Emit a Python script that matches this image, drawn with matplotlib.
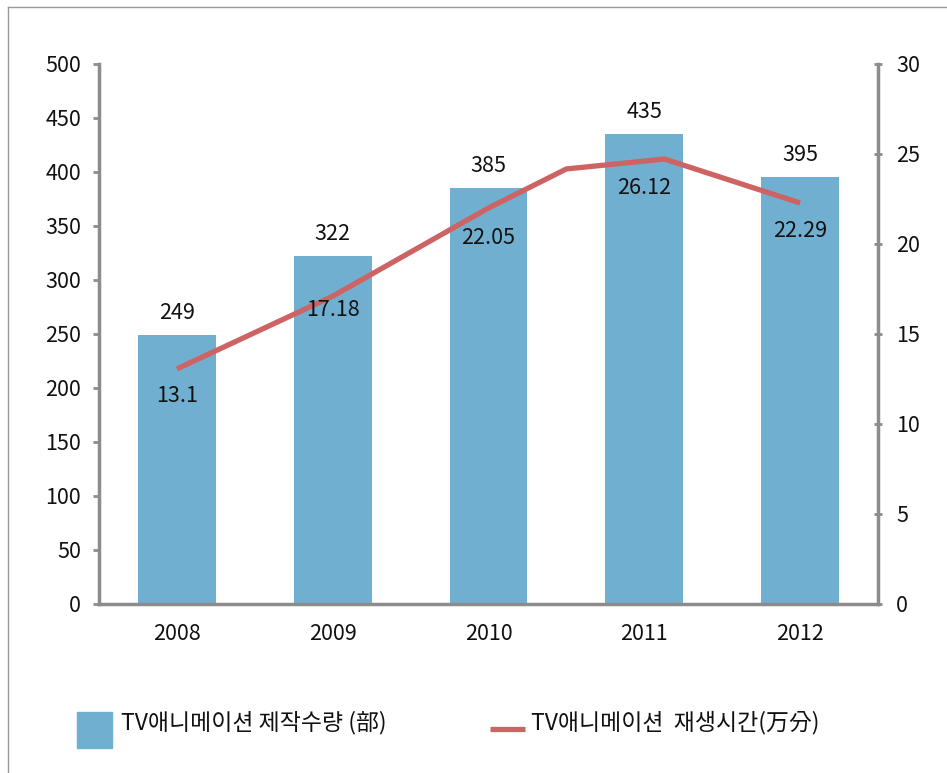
import matplotlib.pyplot as plt
from matplotlib.lines import Line2D
from matplotlib.patches import Rectangle

plt.rcParams['font.family'] = ['Noto Sans CJK KR', 'DejaVu Sans']

# ---------------------------------------------------------------------
# Data
# ---------------------------------------------------------------------

years = ["2008", "2009", "2010", "2011", "2012"]
production = [249, 322, 385, 435, 395]
runtime_labels = ["13.1", "17.18", "22.05", "26.12", "22.29"]

# line as drawn in the source (it has a kink between 2010 and 2011)
line_x = [0, 1, 2, 2.5, 3.13, 4]
line_y = [13.06, 17.1, 22.0, 24.17, 24.72, 22.28]

bar_name = "TV애니메이션 제작수량 (部)"
line_name = "TV애니메이션  재생시간(万分)"

# ---------------------------------------------------------------------
# Style
# ---------------------------------------------------------------------

BAR_COLOR = "#71afd0"
LINE_COLOR = "#cd6363"
AXIS_COLOR = "#8c8c8c"
TEXT_COLOR = "#111111"
FS = 15.5
W, H = 947, 773

fig = plt.figure(figsize=(W / 100, H / 100), dpi=100)
ax = fig.add_axes([99 / W, 1 - 604 / H, (878 - 99) / W, (604 - 64) / H])
ax2 = ax.twinx()

x = list(range(len(years)))
ax.bar(x, production, width=0.5, color=BAR_COLOR, zorder=2)
ax.set_xlim(-0.5, 4.5)
ax.set_ylim(0, 500)
ax.set_yticks(range(0, 501, 50))
ax.set_xticks(x)
ax.set_xticklabels(years)

for xi, v in zip(x, production):
    ax.annotate(str(v), (xi, v), xytext=(0, 22), textcoords="offset pixels",
                ha="center", va="center", fontsize=FS, color=TEXT_COLOR)

ax2.plot(line_x, line_y, color=LINE_COLOR, lw=3.8, solid_capstyle="butt", zorder=3)
ax2.set_ylim(0, 30)
ax2.set_yticks(range(0, 31, 5))

# data label offsets below the line (pixels), as seen in the source
label_base = [13.06, 17.1, 22.0, 26.12, 22.28]
label_off = [27, 14, 30, 54, 28]
for xi, base, off, lab in zip(x, label_base, label_off, runtime_labels):
    ax2.annotate(lab, (xi, base), xytext=(0, -off), textcoords="offset pixels",
                 ha="center", va="center", fontsize=FS, color=TEXT_COLOR, zorder=4)

ax.set_zorder(1)
ax2.set_zorder(2)
ax.patch.set_visible(False)
ax2.patch.set_visible(False)

for a in (ax, ax2):
    for s in a.spines.values():
        s.set_visible(False)

ax.spines["left"].set_visible(True)
ax.spines["bottom"].set_visible(True)
ax2.spines["right"].set_visible(True)
for s in (ax.spines["left"], ax.spines["bottom"], ax2.spines["right"]):
    s.set_color(AXIS_COLOR)
    s.set_linewidth(2.5)
    s.set_zorder(5)

ax.tick_params(axis="y", direction="out", length=4, width=2, color=AXIS_COLOR,
               labelsize=FS, pad=9, labelcolor=TEXT_COLOR)
ax.tick_params(axis="x", length=0, labelsize=FS, pad=14, labelcolor=TEXT_COLOR)
ax2.tick_params(axis="y", direction="inout", length=6, width=2, color=AXIS_COLOR,
                labelsize=FS, pad=10, labelcolor=TEXT_COLOR)

# legend drawn by hand
fig.patches.append(Rectangle((77 / W, 1 - 748 / H), 35 / W, 36 / H,
                             transform=fig.transFigure, color=BAR_COLOR))
fig.text(121 / W, 1 - 723 / H, bar_name, fontsize=16.5, va="center", ha="left",
         color=TEXT_COLOR)
fig.lines.append(Line2D([490 / W, 525 / W], [1 - 729 / H, 1 - 729 / H],
                        transform=fig.transFigure, color=LINE_COLOR, lw=3.8,
                        solid_capstyle="butt"))
fig.text(531 / W, 1 - 723 / H, line_name, fontsize=16.5, va="center", ha="left",
         color=TEXT_COLOR)

# outer frame (only top and left edges visible)
fig.lines.append(Line2D([8 / W, 1], [1 - 7 / H, 1 - 7 / H],
                        transform=fig.transFigure, color="#999999", lw=1))
fig.lines.append(Line2D([8 / W, 8 / W], [0, 1 - 7 / H],
                        transform=fig.transFigure, color="#999999", lw=1))

fig.savefig("out.png", dpi=100, facecolor="white")
